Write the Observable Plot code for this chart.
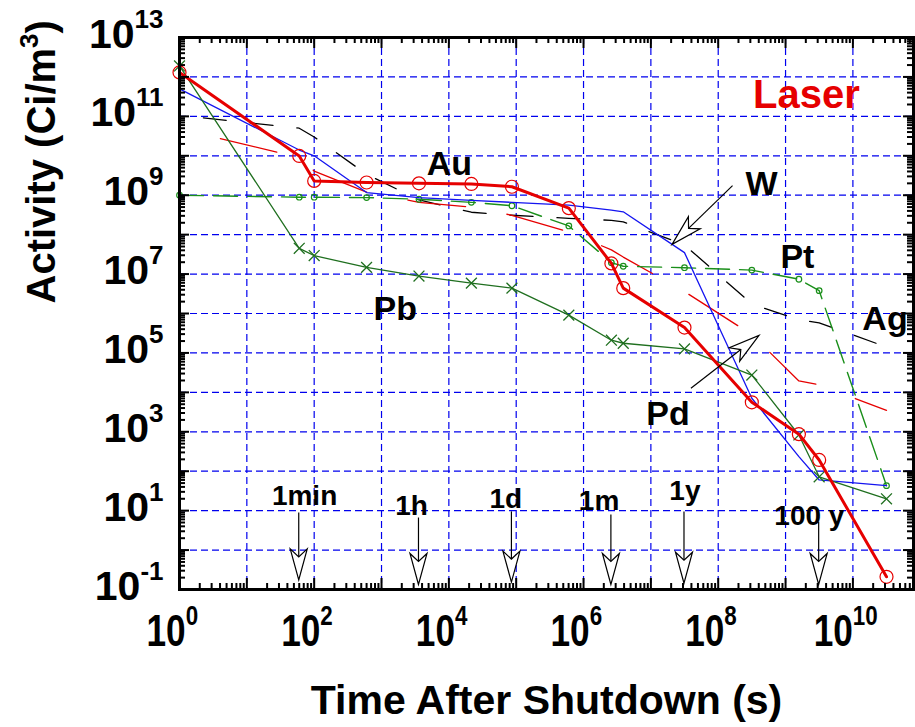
<!DOCTYPE html>
<html><head><meta charset="utf-8">
<script src="https://cdn.jsdelivr.net/npm/d3@7"></script>
<script src="https://cdn.jsdelivr.net/npm/@observablehq/plot@0.6"></script>
<style>body{margin:0;background:#fff} svg{display:block}</style>
</head><body><div id="chart"></div>
<script>
// ---- data (time in s, activity in Ci/m^3) ----
const times = [1, 60, 100, 600, 3600, 21600, 86400, 604800, 2.592e6, 3.888e6, 3.156e7, 3.156e8, 1.578e9, 3.156e9, 3.156e10];
const au = [1.3e12, 9.9e9, 2.3e9, 2.1e9, 2.0e9, 1.93e9, 1.64e9, 4.7e8, 1.86e7, 4.4e6, 4.4e5, 5.6e3, 870, 193, 0.21];
const w  = [5.0e11, 1.4e10, 1.0e10, 1.17e9, 8.7e8, 7.4e8, 6.6e8, 5.6e8, 4.2e8, 3.8e8, 3.5e7, 7.1e3, 234, 60, 43];
const pb = [1.9e12, 4.5e7, 2.95e7, 1.48e7, 8.9e6, 5.9e6, 4.4e6, 9.1e5, 2.1e5, 1.76e5, 1.26e5, 2.75e4, 830, 72, 20];
const pt = [1.0e9, 8.9e8, 8.9e8, 8.7e8, 7.9e8, 6.6e8, 5.4e8, 1.66e8, 1.95e7, 1.58e7, 1.45e7, 1.26e7, 7.4e6, 3.8e6, 43];
const ag = [1.07e11, 5.0e10, 3.0e10, 3.4e9, 7.6e8, 3.7e8, 3.1e8, 2.6e8, 2.3e8, 2.1e8, 5.5e7, 1.74e6, 6.9e5, 5.8e5, 1.41e5];
const pd = [4.8e10, 9.1e9, 4.1e9, 1.2e9, 6.6e8, 5.0e8, 3.1e8, 1.17e8, 4.1e7, 2.7e7, 3.6e6, 2.9e5, 1.95e4, 1.55e4, 3.5e3];

// ---- ticks ----
const xLabelTicks = [1, 1e2, 1e4, 1e6, 1e8, 1e10];
const yLabelTicks = [1e-1, 1e1, 1e3, 1e5, 1e7, 1e9, 1e11, 1e13];
const xDecades = d3.range(0, 11).map(k => 10 ** k);
const yDecades = d3.range(-1, 14).map(k => 10 ** k);
const xMinor = d3.range(0, 11).flatMap(k => d3.range(2, 10).map(m => m * 10 ** k)).filter(v => v < 10 ** 10.9);
const yMinor = d3.range(-1, 13).flatMap(k => d3.range(2, 10).map(m => m * 10 ** k));

// ---- annotations ----
const seriesLabels = [
  {label: "Au", x: 1.02e4, y: 6.0e9},
  {label: "W",  x: 4.4e8,  y: 1.9e9},
  {label: "Pt", x: 1.5e9,  y: 2.7e7},
  {label: "Ag", x: 3.0e10, y: 7.2e5},
  {label: "Pb", x: 1.6e3,  y: 1.3e6},
  {label: "Pd", x: 1.8e7,  y: 2.8e3}
];
const titleLabel = [{label: "Laser", x: 2.04e9, y: 3.47e11}];
const timeLabels = [
  {label: "1min", x: 72,    y: 23},
  {label: "1h",   x: 2800,  y: 13},
  {label: "1d",   x: 7.0e4, y: 20},
  {label: "1m",   x: 1.7e6, y: 17.6},
  {label: "1y",   x: 3.2e7, y: 32},
  {label: "100 y",x: 2.26e9,y: 7.2}
];
const arrows = [
  {x1: 60,     y1: 8.7, x2: 60,     y2: 0.17},
  {x1: 3600,   y1: 6.5, x2: 3600,   y2: 0.13},
  {x1: 86400,  y1: 9.3, x2: 86400,  y2: 0.15},
  {x1: 2.592e6,y1: 7.8, x2: 2.592e6,y2: 0.13},
  {x1: 3.156e7,y1: 9.3, x2: 3.156e7,y2: 0.14},
  {x1: 3.156e9,y1: 5.1, x2: 3.156e9,y2: 0.13},
  {x1: 1.66e8, y1: 1.7e9, x2: 2.1e7, y2: 5.5e7},
  {x1: 4.0e7,  y1: 1.23e4, x2: 4.1e8, y2: 2.7e5}
];
const xTitle = "Time After Shutdown (s)";
const yTitle = "Activity (Ci/m3)";

const NS = "http://www.w3.org/2000/svg";
const rows = vals => times.map((t, i) => ({t, v: vals[i]}));

function arrowMark(list) {
  return function (index, scales) {
    const sx = typeof scales.x === "function" ? scales.x : scales.scales.x.apply;
    const sy = typeof scales.y === "function" ? scales.y : scales.scales.y.apply;
    const g = document.createElementNS(NS, "g");
    g.setAttribute("aria-label", "annotation arrows");
    for (const a of list) {
      const x1 = sx(a.x1), y1 = sy(a.y1), x2 = sx(a.x2), y2 = sy(a.y2);
      const L = Math.hypot(x2 - x1, y2 - y1), ux = (x2 - x1) / L, uy = (y2 - y1) / L, px = -uy, py = ux;
      const hl = 31, hw = 8.5, nd = 23;
      const nx = x2 - ux * nd, ny = y2 - uy * nd;
      const line = document.createElementNS(NS, "line");
      line.setAttribute("x1", x1); line.setAttribute("y1", y1);
      line.setAttribute("x2", nx); line.setAttribute("y2", ny);
      line.setAttribute("stroke", "black"); line.setAttribute("stroke-width", 1.2);
      const head = document.createElementNS(NS, "path");
      head.setAttribute("d", `M${x2},${y2}L${x2 - ux * hl + px * hw},${y2 - uy * hl + py * hw}L${nx},${ny}L${x2 - ux * hl - px * hw},${y2 - uy * hl - py * hw}Z`);
      head.setAttribute("fill", "white"); head.setAttribute("stroke", "black"); head.setAttribute("stroke-width", 1.2);
      g.append(line, head);
    }
    return g;
  };
}

const plotW = 915 - 179 - 2, plotH = 727 - 37 - 138;
const exp = d => String(Math.round(Math.log10(d)));
const RED = "#e60000", BLUE = "#1414f0", GREEN_PB = "#1f6f1f", GREEN_PT = "#1a8f1a";

const svg = Plot.plot({
  width: 915, height: 727,
  marginLeft: 179, marginRight: 2, marginTop: 37, marginBottom: 138,
  style: {fontFamily: "'Liberation Sans', Arial, sans-serif", background: "white", overflow: "visible"},
  x: {type: "log", domain: [1, 10 ** 10.9]},
  y: {type: "log", domain: [0.1, 1e13]},
  marks: [
    Plot.gridX(xDecades, {stroke: "#0000ee", strokeOpacity: 1, strokeWidth: 1.2, strokeDasharray: "7,4"}),
    Plot.gridY(yDecades, {stroke: "#0000ee", strokeOpacity: 1, strokeWidth: 1.2, strokeDasharray: "7,4"}),
    Plot.line(rows(ag), {x: "t", y: "v", stroke: "black", strokeWidth: 1.3, strokeDasharray: "23,24", strokeDashoffset: 23}),
    Plot.line(rows(pd), {x: "t", y: "v", stroke: RED, strokeWidth: 1.3, strokeDasharray: "58,42", strokeDashoffset: 58}),
    Plot.line(rows(pt), {x: "t", y: "v", stroke: GREEN_PT, strokeWidth: 1.4, strokeDasharray: "24,10"}),
    Plot.dot(rows(pt), {x: "t", y: "v", r: 2.8, stroke: GREEN_PT, strokeWidth: 1.2, fill: "none"}),
    Plot.line(rows(w), {x: "t", y: "v", stroke: BLUE, strokeWidth: 1.3}),
    Plot.line(rows(pb), {x: "t", y: "v", stroke: GREEN_PB, strokeWidth: 1.3}),
    Plot.dot(rows(pb), {x: "t", y: "v", r: 5, symbol: "times", stroke: GREEN_PB, strokeWidth: 1.3}),
    Plot.line(rows(au), {x: "t", y: "v", stroke: RED, strokeWidth: 3}),
    Plot.dot(rows(au), {x: "t", y: "v", r: 6.5, stroke: RED, strokeWidth: 1.2, fill: "none"}),
    arrowMark(arrows),
    Plot.text(seriesLabels, {x: "x", y: "y", text: "label", fontSize: 34, fontWeight: "bold", fill: "black", lineAnchor: "middle"}),
    Plot.text(titleLabel, {x: "x", y: "y", text: "label", fontSize: 40, fontWeight: "bold", fill: RED, lineAnchor: "middle"}),
    Plot.text(timeLabels, {x: "x", y: "y", text: "label", fontSize: 28, fontWeight: "bold", fill: "black", lineAnchor: "middle"}),
    Plot.frame({stroke: "black", strokeWidth: 3}),
    // inward ticks
    Plot.ruleY(yDecades, {insetRight: plotW - 10, stroke: "black", strokeWidth: 2}),
    Plot.ruleY(yDecades, {insetLeft: plotW - 10, stroke: "black", strokeWidth: 2}),
    Plot.ruleY(yMinor, {insetRight: plotW - 6, stroke: "black", strokeWidth: 2}),
    Plot.ruleY(yMinor, {insetLeft: plotW - 6, stroke: "black", strokeWidth: 2}),
    Plot.ruleX(xDecades, {insetTop: plotH - 11, stroke: "black", strokeWidth: 2}),
    Plot.ruleX(xDecades, {insetBottom: plotH - 11, stroke: "black", strokeWidth: 2}),
    Plot.ruleX(xMinor, {insetTop: plotH - 6, stroke: "black", strokeWidth: 2}),
    Plot.ruleX(xMinor, {insetBottom: plotH - 6, stroke: "black", strokeWidth: 2}),
    Plot.axisY(yLabelTicks, {tickSize: 0, tickPadding: 16, tickFormat: exp, fontSize: 41, fontWeight: "bold", label: null}),
    Plot.axisX(xLabelTicks, {tickSize: 0, tickPadding: 0, tickFormat: exp, fontSize: 44, fontWeight: "bold", label: null}),
    Plot.text([xTitle], {frameAnchor: "bottom", dy: 124, fontSize: 41, fontWeight: "bold"}),
    Plot.text([yTitle], {frameAnchor: "left", dx: -125, dy: -10, rotate: -90, fontSize: 40, fontWeight: "bold"})
  ]
});

function tsp(text, attrs) {
  const t = document.createElementNS(NS, "tspan");
  t.textContent = text;
  for (const k in attrs) t.setAttribute(k, attrs[k]);
  return t;
}
svg.querySelectorAll('g[aria-label="y-axis tick label"] text').forEach(t => {
  const e = t.textContent;
  t.textContent = "";
  t.setAttribute("y", "0");
  t.setAttribute("dy", "10");
  t.append(tsp("10", {"font-size": 41}), tsp(e, {"font-size": 26, dy: -20}));
});
svg.querySelectorAll('g[aria-label="x-axis tick label"] text').forEach(t => {
  const e = t.textContent;
  t.textContent = "";
  t.setAttribute("y", "0");
  t.setAttribute("dy", "57");
  t.setAttribute("dx", "-9");
  t.setAttribute("transform", (t.getAttribute("transform") || "") + " scale(0.8,1)");
  t.append(tsp("10", {"font-size": 44}), tsp(e, {"font-size": 28, dy: -21}));
});
svg.querySelectorAll("text").forEach(t => {
  if (t.textContent === xTitle) { t.setAttribute("y", "0"); t.setAttribute("dy", "0"); }
  else if (t.textContent === yTitle) {
    t.textContent = "";
    t.setAttribute("y", "0");
    t.setAttribute("dy", "0");
    t.append(tsp("Activity (Ci/m", {}), tsp("3", {"font-size": 26, dy: -17}), tsp(")", {dy: 17}));
  }
});
document.getElementById("chart").append(svg);
</script>
</body></html>
